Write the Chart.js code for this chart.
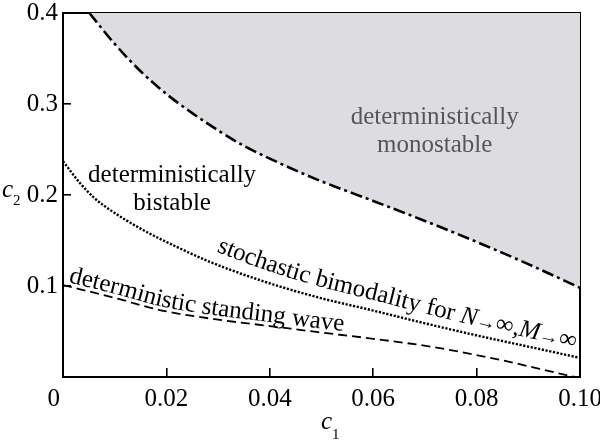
<!DOCTYPE html>
<html><head><meta charset="utf-8">
<script src="https://cdn.jsdelivr.net/npm/chart.js@4/dist/chart.umd.min.js"></script>
<style>html,body{margin:0;padding:0;background:#fff}#wrap{width:600px;height:441px;position:relative}</style>
</head><body><div id="wrap"><canvas id="c" width="600" height="441"></canvas></div>
<script>
// boundary of the deterministically monostable region (dash-dot)
const monoC1 = [0.0051, 0.010, 0.015, 0.020, 0.025, 0.030, 0.035, 0.040, 0.045, 0.050, 0.060, 0.070, 0.080, 0.090, 0.100];
const monoC2 = [0.400, 0.366, 0.336, 0.311, 0.290, 0.271, 0.254, 0.240, 0.227, 0.215, 0.1935, 0.1715, 0.1485, 0.124, 0.098];
// stochastic bimodality boundary (dotted)
const bimodC1 = [0, 0.0033, 0.006, 0.009, 0.0155, 0.022, 0.0284, 0.038, 0.049, 0.060, 0.070, 0.080, 0.090, 0.100];
const bimodC2 = [0.237, 0.213, 0.197, 0.184, 0.1615, 0.143, 0.1266, 0.1066, 0.088, 0.073, 0.059, 0.0457, 0.0334, 0.021];
// deterministic standing wave boundary (dashed)
const waveC1 = [0, 0.010, 0.0187, 0.030, 0.040, 0.049, 0.060, 0.0715, 0.0844, 0.0974, 0.099];
const waveC2 = [0.101, 0.087, 0.0736, 0.063, 0.056, 0.0495, 0.042, 0.033, 0.019, 0.002, 0.0];

const xTickLabels = ['0', '0.02', '0.04', '0.06', '0.08', '0.10'];
const yTickLabels = ['', '0.1', '0.2', '0.3', '0.4'];
const monoLabel = ['deterministically', 'monostable'];
const bistLabel = ['deterministically', 'bistable'];
const waveLabel = 'deterministic standing wave';
const bimodLabel = ['stochastic bimodality for ', 'N', '\u2192', '\u221E', ',', 'M', '\u2192', '\u221E'];

const SERIF = '"Liberation Serif", "Times New Roman", serif';
const pts = (xs, ys) => xs.map((x, i) => ({x: x, y: ys[i]}));

function buildPath(meta) {
  const p = meta.data, out = [];
  for (let j = 0; j < p.length - 1; j++) {
    const a = p[j], b = p[j + 1];
    const c1x = a.cp2x ?? a.x, c1y = a.cp2y ?? a.y, c2x = b.cp1x ?? b.x, c2y = b.cp1y ?? b.y;
    for (let k = 0; k < 24; k++) {
      const t = k / 24, u = 1 - t;
      out.push({
        x: u*u*u*a.x + 3*u*u*t*c1x + 3*u*t*t*c2x + t*t*t*b.x,
        y: u*u*u*a.y + 3*u*u*t*c1y + 3*u*t*t*c2y + t*t*t*b.y
      });
    }
  }
  const l = p[p.length - 1]; out.push({x: l.x, y: l.y});
  let s = 0; out[0].s = 0;
  for (let i = 1; i < out.length; i++) { s += Math.hypot(out[i].x - out[i-1].x, out[i].y - out[i-1].y); out[i].s = s; }
  return out;
}
function pointAt(path, s) {
  let i = 1;
  while (i < path.length - 1 && path[i].s < s) i++;
  const a = path[i - 1], b = path[i];
  const t = (s - a.s) / ((b.s - a.s) || 1);
  return {x: a.x + (b.x - a.x) * t, y: a.y + (b.y - a.y) * t, ang: Math.atan2(b.y - a.y, b.x - a.x)};
}
function drawOnPath(ctx, path, startX, off0, off1, runs) {
  let i = 0; while (i < path.length - 1 && path[i].x < startX) i++;
  let s = path[i].s;
  ctx.textAlign = 'center'; ctx.textBaseline = 'alphabetic';
  let total = 0;
  for (const r of runs) { ctx.font = r.font; for (const ch of r.text) total += ctx.measureText(ch).width * (r.sx || 1); }
  const s0 = s;
  for (const r of runs) {
    ctx.font = r.font;
    for (const ch of r.text) {
      const w = ctx.measureText(ch).width * (r.sx || 1);
      const p = pointAt(path, s + w / 2);
      const off = off0 + (off1 - off0) * ((s - s0) / total);
      ctx.save(); ctx.translate(p.x, p.y); ctx.rotate(p.ang);
      ctx.translate(0, -off + (r.dy || 0));
      if (r.sx) ctx.scale(r.sx, 1);
      ctx.fillText(ch, 0, 0);
      ctx.restore();
      s += w;
    }
  }
}

const annot = {
  id: 'annot',
  afterDatasetsDraw(chart) {
    const ctx = chart.ctx, xs = chart.scales.x, ys = chart.scales.y;
    ctx.save();
    ctx.textAlign = 'center'; ctx.textBaseline = 'alphabetic';
    ctx.font = '25px ' + SERIF;
    ctx.fillStyle = '#55555b';
    ctx.fillText(monoLabel[0], xs.getPixelForValue(0.0719), ys.getPixelForValue(0.278));
    ctx.fillText(monoLabel[1], xs.getPixelForValue(0.0719), ys.getPixelForValue(0.247));
    ctx.fillStyle = '#000';
    ctx.fillText(bistLabel[0], xs.getPixelForValue(0.0211), ys.getPixelForValue(0.214));
    ctx.fillText(bistLabel[1], xs.getPixelForValue(0.0211), ys.getPixelForValue(0.183));
    const bp = buildPath(chart.getDatasetMeta(1));
    const f = '25px ' + SERIF, fi = 'italic 25px ' + SERIF, fa = '18px ' + SERIF;
    drawOnPath(ctx, bp, 210, 12, 8, [
      {text: bimodLabel[0], font: f}, {text: bimodLabel[1], font: fi}, {text: bimodLabel[2], font: fa, sx: 1.1},
      {text: bimodLabel[3], font: f}, {text: bimodLabel[4], font: f}, {text: bimodLabel[5], font: fi},
      {text: bimodLabel[6], font: fa, sx: 1.1}, {text: bimodLabel[7], font: f}
    ]);
    const wp = buildPath(chart.getDatasetMeta(2));
    drawOnPath(ctx, wp, 67, 4, 4, [{text: waveLabel, font: f}]);
    // axis titles
    ctx.textAlign = 'left';
    ctx.font = 'italic 25px ' + SERIF; ctx.fillText('c', 321, 429);
    ctx.font = '15px ' + SERIF; ctx.fillText('1', 332, 439);
    ctx.font = 'italic 25px ' + SERIF; ctx.fillText('c', 2, 197);
    ctx.font = '15px ' + SERIF; ctx.fillText('2', 13, 205);
    ctx.restore();
  }
};

const noPad = s => { s.paddingLeft = 0; s.paddingRight = 0; s.paddingTop = 0; s.paddingBottom = 0; };

new Chart(document.getElementById('c'), {
  type: 'line',
  data: {
    datasets: [
      {data: pts(monoC1, monoC2), borderColor: '#000', borderWidth: 2.6, borderDash: [12, 4, 3, 4],
       pointRadius: 0, cubicInterpolationMode: 'monotone', fill: 'end', backgroundColor: '#dddde1'},
      {data: pts(bimodC1, bimodC2), borderColor: '#000', borderWidth: 2.4, borderDash: [2.2, 1.6],
       pointRadius: 0, cubicInterpolationMode: 'monotone', fill: false},
      {data: pts(waveC1, waveC2), borderColor: '#000', borderWidth: 1.8, borderDash: [9, 5],
       pointRadius: 0, cubicInterpolationMode: 'monotone', fill: false}
    ]
  },
  options: {
    responsive: false, animation: false, devicePixelRatio: 1,
    layout: {padding: 0, autoPadding: false},
    plugins: {legend: {display: false}, tooltip: {enabled: false}},
    scales: {
      x: {type: 'linear', position: 'bottom', min: 0, max: 0.1,
          afterBuildTicks: s => { s.ticks = xTickLabels.map((t, i) => ({value: i * 0.02})); },
          ticks: {callback: (v, i) => i === 0 ? xTickLabels[0] + '   ' : xTickLabels[i], color: '#000',
                  font: {family: SERIF, size: 25}, padding: 16, maxRotation: 0, autoSkip: false},
          grid: {drawOnChartArea: false, drawTicks: true, tickLength: -9, color: '#000', lineWidth: 1.6},
          border: {display: true, color: '#000', width: 2},
          afterFit: s => { noPad(s); s.height = 64; }},
      y: {type: 'linear', position: 'left', min: 0, max: 0.4,
          afterBuildTicks: s => { s.ticks = yTickLabels.map((t, i) => ({value: i * 0.1})); },
          ticks: {callback: (v, i) => yTickLabels[i], color: '#000', font: {family: SERIF, size: 25}, padding: 13},
          grid: {drawOnChartArea: false, drawTicks: true, tickLength: -8, color: '#000', lineWidth: 1.6},
          border: {display: true, color: '#000', width: 2},
          afterFit: s => { noPad(s); s.width = 63; }},
      x2: {type: 'linear', position: 'top', min: 0, max: 0.1, ticks: {display: false},
           grid: {display: false}, border: {display: true, color: '#000', width: 2},
           afterFit: s => { noPad(s); s.height = 13; }},
      y2: {type: 'linear', position: 'right', min: 0, max: 0.4, ticks: {display: false},
           grid: {display: false}, border: {display: true, color: '#000', width: 2},
           afterFit: s => { noPad(s); s.width = 20; }}
    }
  },
  plugins: [annot]
});
</script></body></html>
